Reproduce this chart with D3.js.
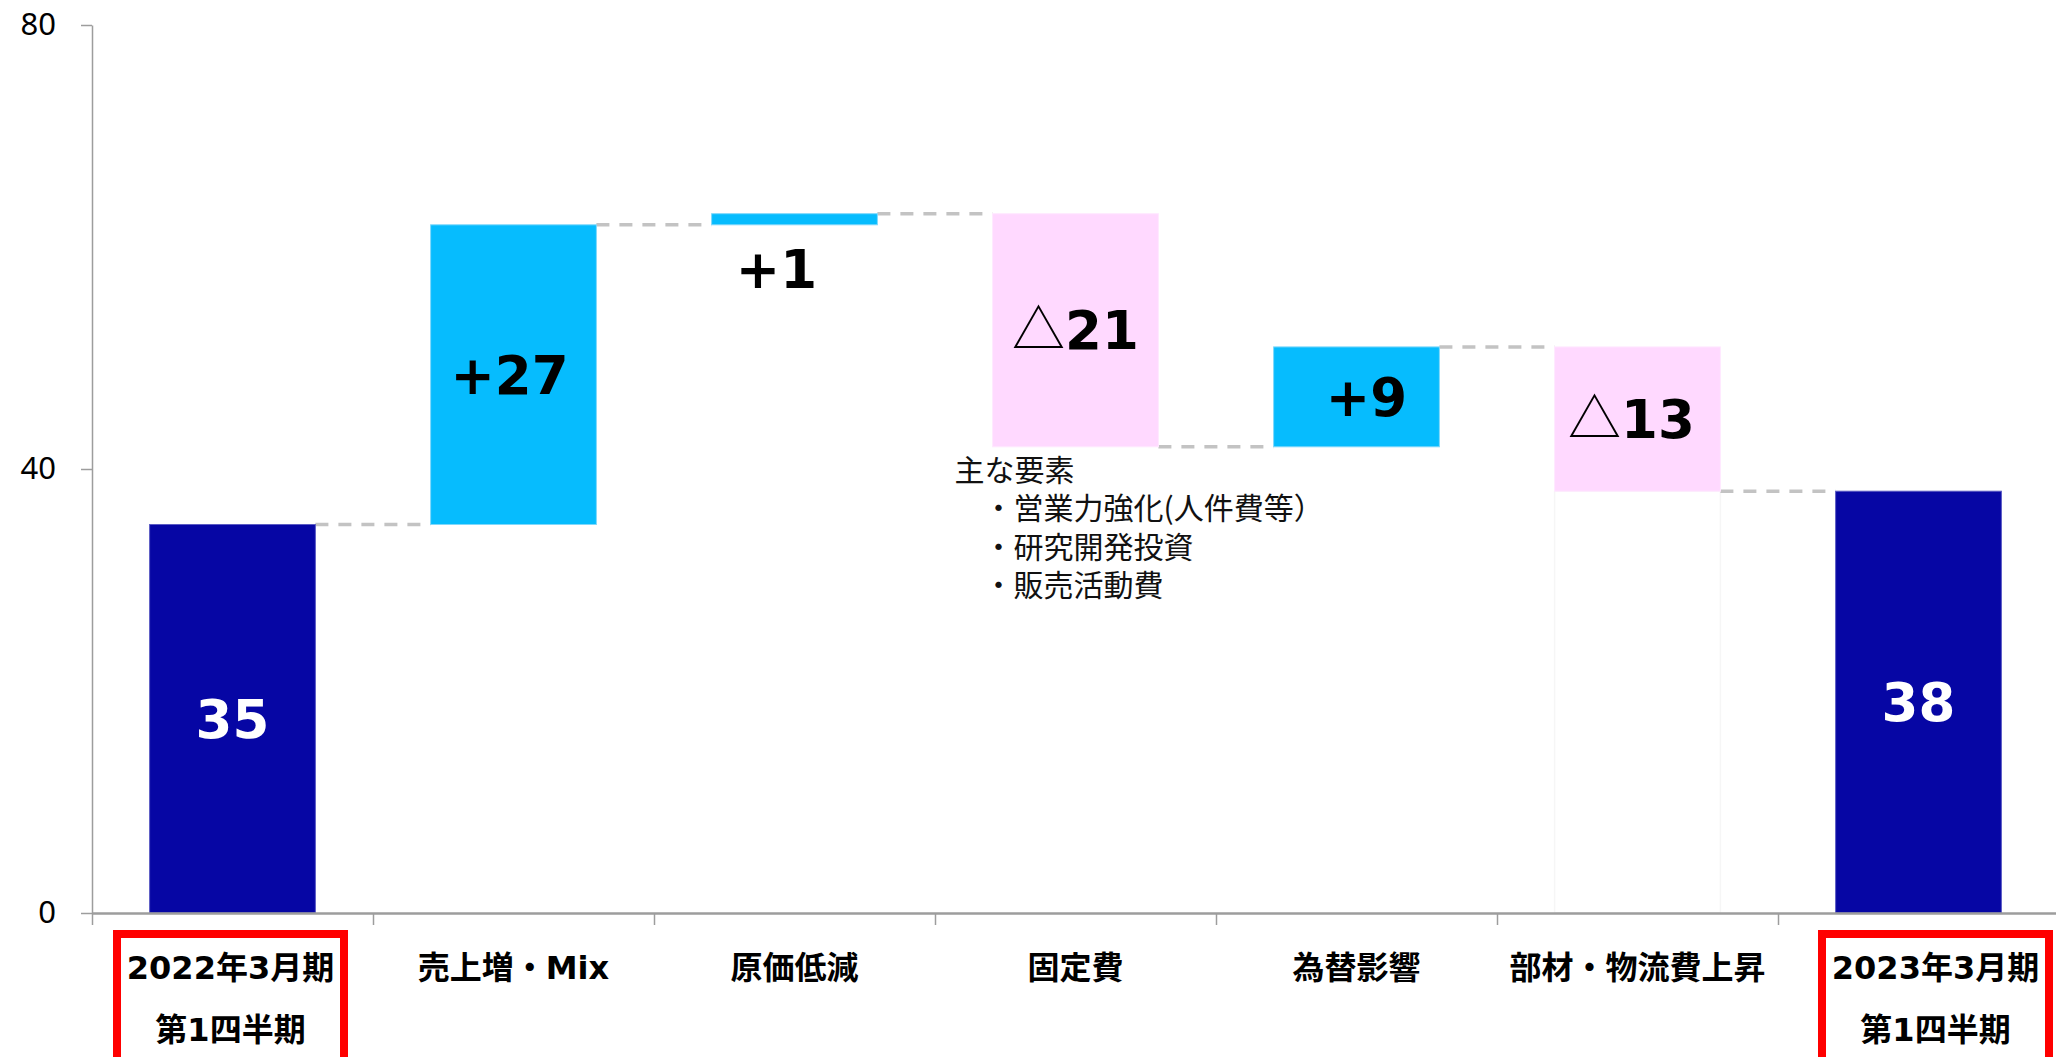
<!DOCTYPE html>
<html lang="ja">
<head>
<meta charset="utf-8">
<script src="https://d3js.org/d3.v7.min.js"></script>
<style>
  body { margin: 0; background: #fff; }
  .axis path, .axis line { stroke: #9d9d9d; }
  .y-axis text { font: 31px "Noto Sans", sans-serif; fill: #000; }
  .cat { font: bold 32px "DejaVu Sans", "Noto Sans CJK JP", sans-serif; fill: #000; }
  .val { font: bold 53px "DejaVu Sans", "Noto Sans CJK JP", sans-serif; }
  .note { font: 30px "Noto Sans CJK JP", sans-serif; fill: #111; }
</style>
<title>営業利益 増減要因</title>
</head>
<body>
<svg id="chart" width="2056" height="1057"></svg>
<script>
// data
const categories = ["2022年3月期", "売上増・Mix", "原価低減", "固定費", "為替影響", "部材・物流費上昇", "2023年3月期"];
const subLabels  = ["第1四半期", "", "", "", "", "", "第1四半期"];
const values     = [35, 27, 1, -21, 9, -13, 38];
const kinds      = ["total", "up", "up", "down", "up", "down", "total"];
const valueLabels = ["35", "+27", "+1", "△21", "+9", "△13", "38"];
const yTicks = [0, 40, 80];
const noteTitle = "主な要素";
const noteItems = ["・営業力強化(人件費等）", "・研究開発投資", "・販売活動費"];

// layout
const mLeft = 92, mRight = 2059, mTop = 25, mBottom = 913;
const colors = { total: "#0606a4", up: "#06bcfe", down: "#ffd9ff" };
const strokes = { total: "#5b5bc4", up: "#7fd8fb", down: "#ffe8ff" };
const labelNudge = { "売上増・Mix": -4, "原価低減": -18, "為替影響": 10, "部材・物流費上昇": -6 };
const boxNudge = { "2022年3月期": -2, "2023年3月期": 17 };

const svg = d3.select("#chart");

// waterfall steps
let run = 0;
const steps = categories.map((c, i) => {
    let from, to;
    if (kinds[i] === "total") { from = 0; to = values[i]; }
    else { from = run; to = run + values[i]; }
    run = to;
    return { cat: c, sub: subLabels[i], kind: kinds[i], from, to, label: valueLabels[i], i };
});

const x = d3.scaleBand().domain(categories).range([mLeft, mRight])
    .paddingInner(0.41).paddingOuter(0.205);
const xb = d3.scaleLinear().domain([0, categories.length]).range([mLeft, mRight]);
const y = d3.scaleLinear().domain([0, 80]).range([mBottom, mTop]);
const bw = x.bandwidth();
const cx = c => x(c) + bw / 2;

// ghost base outline (visible only faintly in the original)
const ghost = steps.filter(d => d.cat === "部材・物流費上昇");
svg.append("g").selectAll("rect").data(ghost).enter().append("rect")
    .attr("x", d => x(d.cat))
    .attr("y", d => y(Math.min(d.from, d.to)))
    .attr("width", bw)
    .attr("height", d => y(0) - y(Math.min(d.from, d.to)))
    .attr("fill", "none")
    .attr("stroke", "#f6f6f6")
    .attr("stroke-width", 1.5);

// connectors
const conns = steps.slice(0, -1).map((d, i) => ({ a: d, b: steps[i + 1], level: d.to }));
svg.append("g").selectAll("line").data(conns).enter().append("line")
    .attr("x1", d => x(d.a.cat) + bw)
    .attr("x2", d => x(d.b.cat))
    .attr("y1", d => y(d.level))
    .attr("y2", d => y(d.level))
    .attr("stroke", "#c3c3c3")
    .attr("stroke-width", 3.5)
    .attr("stroke-dasharray", "13,10");

// bars
svg.append("g").selectAll("rect").data(steps).enter().append("rect")
    .attr("x", d => x(d.cat))
    .attr("y", d => y(Math.max(d.from, d.to)))
    .attr("width", bw)
    .attr("height", d => Math.abs(y(d.from) - y(d.to)))
    .attr("fill", d => colors[d.kind])
    .attr("stroke", d => strokes[d.kind])
    .attr("stroke-width", 1);

// axes
const yAxis = svg.append("g").attr("class", "axis y-axis")
    .attr("transform", `translate(${mLeft},0)`)
    .call(d3.axisLeft(y).tickValues(yTicks).tickSize(11).tickPadding(25).tickSizeOuter(0));
yAxis.select(".domain").attr("stroke-width", 1.5);
yAxis.selectAll(".tick line").attr("stroke-width", 1.5);

const xAxis = svg.append("g").attr("class", "axis x-axis")
    .attr("transform", `translate(0,${mBottom})`)
    .call(d3.axisBottom(xb).tickValues(d3.range(categories.length)).tickFormat("").tickSize(12).tickSizeOuter(0));
xAxis.select(".domain").attr("stroke-width", 2.6);
xAxis.selectAll(".tick line").attr("stroke-width", 1.5);

// value labels
const vl = svg.append("g").selectAll("text").data(steps).enter().append("text")
    .attr("class", "val")
    .attr("text-anchor", "middle")
    .attr("fill", d => d.kind === "total" ? "#fff" : "#000")
    .attr("x", d => cx(d.cat) + (labelNudge[d.cat] || 0))
    .attr("y", d => {
        const lo = Math.min(d.from, d.to), hi = Math.max(d.from, d.to);
        if (y(lo) - y(hi) < 40) return y(lo) + 63;   // thin bar: label below
        return (y(lo) + y(hi)) / 2 + 19;
    });
vl.each(function (d) {
    const t = d3.select(this);
    if (d.label.startsWith("△")) {
        t.append("tspan").attr("font-weight", "normal")
            .attr("font-family", "'Noto Sans CJK JP', sans-serif").text("△");
        t.append("tspan").text(d.label.slice(1));
    } else {
        t.text(d.label);
    }
});

// category labels
const cats = svg.append("g");
cats.selectAll("text.main").data(steps).enter().append("text")
    .attr("class", "cat")
    .attr("text-anchor", "middle")
    .attr("x", d => cx(d.cat) + (boxNudge[d.cat] || 0))
    .attr("y", 979)
    .text(d => d.cat);
cats.selectAll("text.sub").data(steps.filter(d => d.sub)).enter().append("text")
    .attr("class", "cat")
    .attr("text-anchor", "middle")
    .attr("x", d => cx(d.cat) + (boxNudge[d.cat] || 0))
    .attr("y", 1041)
    .text(d => d.sub);

// red frames around the two period labels
cats.selectAll("rect").data(steps.filter(d => d.kind === "total")).enter().append("rect")
    .attr("x", d => cx(d.cat) + (boxNudge[d.cat] || 0) - 113.5)
    .attr("y", 934)
    .attr("width", 227)
    .attr("height", 200)
    .attr("fill", "none")
    .attr("stroke", "#ff0000")
    .attr("stroke-width", 8);

// note under the fixed cost bar
const fixed = steps.find(d => d.cat === "固定費");
const noteX = x(fixed.cat) - 38, noteY = y(fixed.to) + 34;
const note = svg.append("g");
note.append("text").attr("class", "note")
    .attr("x", noteX).attr("y", noteY).text(noteTitle);
note.selectAll("text.item").data(noteItems).enter().append("text")
    .attr("class", "note item")
    .attr("x", noteX + 29)
    .attr("y", (d, i) => noteY + (i + 1) * 38.5)
    .text(d => d);
</script>
</body>
</html>
